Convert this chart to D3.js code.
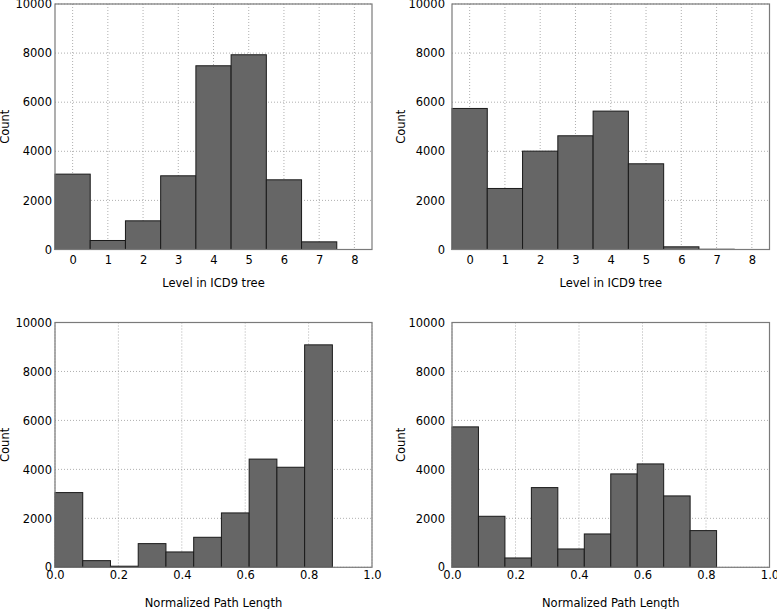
<!DOCTYPE html>
<html><head><meta charset="utf-8">
<script src="https://cdn.jsdelivr.net/npm/d3@7"></script>
<style>
html,body{margin:0;padding:0;background:#fff;}
svg{display:block;}
text{font-family:"DejaVu Sans",sans-serif;fill:#000;}
</style></head>
<body>
<svg id="c" width="777" height="609"></svg>
<script>
// ---- data ----
const levelTicks = [0, 1, 2, 3, 4, 5, 6, 7, 8];
const levelCountsA = [3070, 367, 1168, 3002, 7484, 7932, 2839, 312, 0];
const levelCountsB = [5745, 2486, 4007, 4632, 5637, 3491, 109, 10, 0];
const pathEdgesA = [0, 0.0875, 0.175, 0.2625, 0.35, 0.4375, 0.525, 0.6125, 0.7, 0.7875, 0.875];
const pathCountsA = [3052, 272, 45, 967, 627, 1226, 2221, 4420, 4087, 9087];
const pathEdgesB = [0, 0.0833, 0.1667, 0.25, 0.3333, 0.4167, 0.5, 0.5833, 0.6667, 0.75, 0.8333];
const pathCountsB = [5736, 2084, 381, 3256, 749, 1362, 3815, 4223, 2916, 1499];
const countTicks = [0, 2000, 4000, 6000, 8000, 10000];
const pathTicks = [0, 0.2, 0.4, 0.6, 0.8, 1.0];
const levelLabel = "Level in ICD9 tree";
const pathLabel = "Normalized Path Length";
const yLabel = "Count";

const svg = d3.select("#c");

function panel(cfg) {
  const x = d3.scaleLinear().domain(cfg.xDomain).range([cfg.x0, cfg.x1]);
  const y = d3.scaleLinear().domain([0, 10000]).range([cfg.y1, cfg.y0]);
  const g = svg.append("g");
  // grid
  g.selectAll(".vg").data(cfg.xTicks).join("line")
    .attr("x1", d => x(d)).attr("x2", d => x(d))
    .attr("y1", cfg.y0).attr("y2", cfg.y1)
    .attr("stroke", "#9a9a9a").attr("stroke-width", 0.8).attr("stroke-dasharray", "1,2");
  g.selectAll(".hg").data(countTicks).join("line")
    .attr("x1", cfg.x0).attr("x2", cfg.x1)
    .attr("y1", d => y(d)).attr("y2", d => y(d))
    .attr("stroke", "#9a9a9a").attr("stroke-width", 0.8).attr("stroke-dasharray", "1,2");
  // bars
  g.selectAll(".bar").data(cfg.bins).join("rect")
    .attr("x", d => x(d.a)).attr("width", d => x(d.b) - x(d.a))
    .attr("y", d => y(d.v)).attr("height", d => y(0) - y(d.v))
    .attr("fill", "#666666").attr("stroke", "#1a1a1a").attr("stroke-width", 1);
  // frame
  g.append("rect").attr("x", cfg.x0).attr("y", cfg.y0)
    .attr("width", cfg.x1 - cfg.x0).attr("height", cfg.y1 - cfg.y0)
    .attr("fill", "none").attr("stroke", "#7a7a7a").attr("stroke-width", 1.2);
  // axes via d3
  const xa = d3.axisBottom(x).tickValues(cfg.xTicks).tickSize(0).tickPadding(0).tickFormat(cfg.xFmt);
  const xg = g.append("g").attr("transform", `translate(0,${cfg.y1 + cfg.xLabPad})`).call(xa);
  xg.select(".domain").remove();
  xg.selectAll("text").attr("font-size", 11.5).attr("dy", "0.71em").style("font-family", "DejaVu Sans");
  const ya = d3.axisLeft(y).tickValues(countTicks).tickSize(0).tickPadding(0).tickFormat(d3.format("d"));
  const yg = g.append("g").attr("transform", `translate(${cfg.x0 - cfg.yLabPad},0)`).call(ya);
  yg.select(".domain").remove();
  yg.selectAll("text").attr("font-size", 11.5).style("font-family", "DejaVu Sans");
  // labels
  g.append("text").attr("x", (cfg.x0 + cfg.x1) / 2).attr("y", cfg.xTitleY)
    .attr("text-anchor", "middle").attr("font-size", 11.5).text(cfg.xTitle);
  g.append("text").attr("transform", `translate(${cfg.yTitleX},${(cfg.y0 + cfg.y1) / 2}) rotate(-90)`)
    .attr("text-anchor", "middle").attr("font-size", 11.5).text(yLabel);
}

const lvlBins = arr => levelTicks.map((t, i) => ({a: t - 0.5, b: t + 0.5, v: arr[i]}));
const pathBins = (edges, arr) => arr.map((v, i) => ({a: edges[i], b: edges[i + 1], v: v}));

panel({x0: 55, x1: 372, y0: 4, y1: 249.5, xDomain: [-0.5, 8.5], xTicks: levelTicks,
  xFmt: d3.format("d"), bins: lvlBins(levelCountsA), xLabPad: 6, yLabPad: 3,
  xTitle: levelLabel, xTitleY: 287, yTitleX: 9});
panel({x0: 452, x1: 769.5, y0: 4, y1: 249.5, xDomain: [-0.5, 8.5], xTicks: levelTicks,
  xFmt: d3.format("d"), bins: lvlBins(levelCountsB), xLabPad: 6, yLabPad: 7,
  xTitle: levelLabel, xTitleY: 287, yTitleX: 405});
panel({x0: 55, x1: 372, y0: 322.5, y1: 567.3, xDomain: [0, 1], xTicks: pathTicks,
  xFmt: d3.format(".1f"), bins: pathBins(pathEdgesA, pathCountsA), xLabPad: 4, yLabPad: 3,
  xTitle: pathLabel, xTitleY: 607, yTitleX: 9});
panel({x0: 452, x1: 769.5, y0: 322.5, y1: 567.3, xDomain: [0, 1], xTicks: pathTicks,
  xFmt: d3.format(".1f"), bins: pathBins(pathEdgesB, pathCountsB), xLabPad: 4, yLabPad: 7,
  xTitle: pathLabel, xTitleY: 607, yTitleX: 405});
</script>
</body></html>
